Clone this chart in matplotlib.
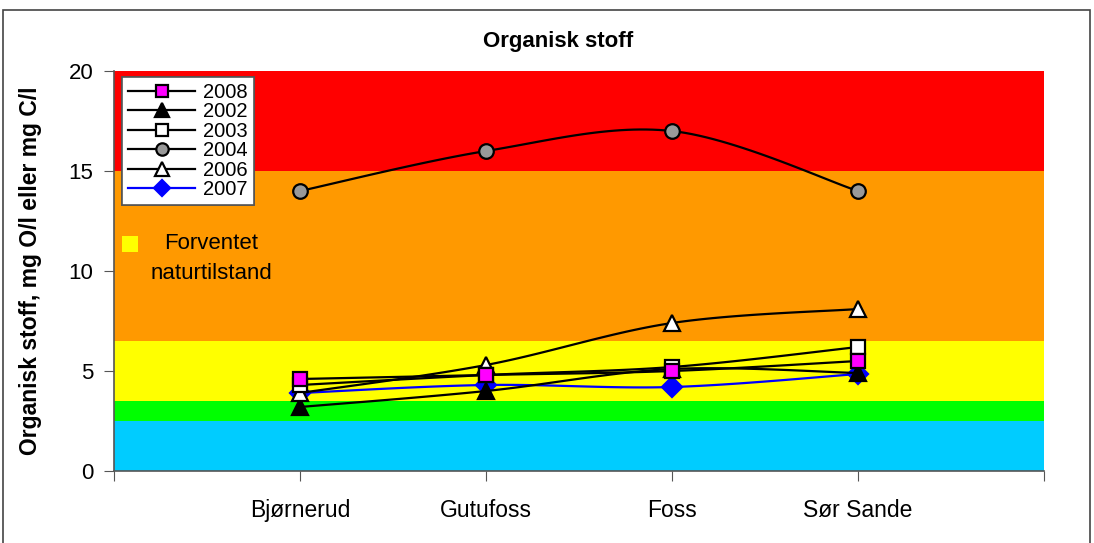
import numpy as np
import matplotlib.pyplot as plt
from matplotlib.patches import Rectangle
from matplotlib.lines import Line2D

plt.rcParams['font.family'] = ['Liberation Sans', 'DejaVu Sans']

stations = ['Bjørnerud', 'Gutufoss', 'Foss', 'Sør Sande']
v2008 = [4.6, 4.8, 5.0, 5.5]
v2002 = [3.2, 4.0, 5.1, 4.9]
v2003 = [4.3, 4.8, 5.2, 6.2]
v2004 = [14, 16, 17, 14]
v2006 = [3.9, 5.3, 7.4, 8.1]
v2007 = [3.9, 4.3, 4.2, 4.85]

# klassegrenser (fra bunn til topp)
band_edges = [0, 2.5, 3.5, 6.5, 15, 20]
band_colors = ['#00CCFF', '#00FF00', '#FFFF00', '#FF9900', '#FF0000']


def smooth(x, y, n=30):
    # catmull-rom, som Excels "glatt linje"
    x = np.asarray(x, float)
    y = np.asarray(y, float)
    px = np.concatenate([[x[0]], x, [x[-1]]])
    py = np.concatenate([[y[0]], y, [y[-1]]])
    xs, ys = [], []
    t = np.linspace(0, 1, n)
    for i in range(1, len(px) - 2):
        for p, out in ((px, xs), (py, ys)):
            p0, p1, p2, p3 = p[i - 1], p[i], p[i + 1], p[i + 2]
            out.extend(0.5 * (2 * p1 + (-p0 + p2) * t
                              + (2 * p0 - 5 * p1 + 4 * p2 - p3) * t ** 2
                              + (-p0 + 3 * p1 - 3 * p2 + p3) * t ** 3))
    return xs, ys


fig = plt.figure(figsize=(10.94, 5.43), dpi=100)
ax = fig.add_axes([0.1042, 0.1326, 0.8501, 0.7366])

for lo, hi, c in zip(band_edges[:-1], band_edges[1:], band_colors):
    ax.axhspan(lo, hi, color=c, lw=0, zorder=0)

xpos = np.arange(1, len(stations) + 1)

series = [
    ('2008', v2008, 's', '#FF00FF', 'black', 'black', 10.5, 6),
    ('2002', v2002, '^', 'black', 'black', 'black', 12, 3),
    ('2003', v2003, 's', 'white', 'black', 'black', 10.5, 5),
    ('2004', v2004, 'o', '#999999', 'black', 'black', 10.5, 5),
    ('2006', v2006, '^', 'white', 'black', 'black', 12, 4),
    ('2007', v2007, 'D', '#0000FF', '#0000FF', '#0000FF', 10, 2),
]

handles = []
for lab, vals, m, fc, ec, lc, ms, z in series:
    sx, sy = smooth(xpos, vals)
    ax.plot(sx, sy, color=lc, lw=1.6, zorder=z)
    ax.plot(xpos, vals, ls='none', marker=m, ms=ms, mfc=fc, mec=ec,
            mew=1.6, zorder=z)
    handles.append(Line2D([], [], color=lc, lw=1.6, marker=m, ms=ms * 0.85,
                          mfc=fc, mec=ec, mew=1.6, label=lab))

ax.set_xlim(0, 5)
ax.set_ylim(0, 20)
ax.set_xticks(np.arange(0, 6))
ax.set_xticklabels([''] + stations + [''])
ax.set_yticks([0, 5, 10, 15, 20])
ax.tick_params(axis='both', labelsize=16, length=7, color='#555555')
ax.tick_params(axis='x', pad=13, labelsize=16.5)
ax.tick_params(axis='y', pad=8)
for s in ('top', 'right'):
    ax.spines[s].set_visible(False)
for s in ('left', 'bottom'):
    ax.spines[s].set_color('#555555')
    ax.spines[s].set_linewidth(1.2)

ax.set_ylabel('Organisk stoff, mg O/l eller mg C/l', fontsize=16.5,
              fontweight='bold')
ax.yaxis.set_label_coords(-0.077, 0.5)

leg = ax.legend(handles=handles, loc='upper left',
                bbox_to_anchor=(0.009, 0.985), fontsize=14.5, frameon=True,
                fancybox=False, edgecolor='#555555', framealpha=1,
                handlelength=3.3, handletextpad=0.4, labelspacing=0.02,
                borderpad=0.3, borderaxespad=0)
leg.get_frame().set_linewidth(1.2)
ax.add_artist(leg)

# "Forventet naturtilstand"-forklaring
ax.add_patch(Rectangle((0.0086, 0.5475), 0.0172, 0.04,
                       transform=ax.transAxes, facecolor='#FFFF00',
                       edgecolor='none', zorder=7))
ax.text(0.1048, 0.531, 'Forventet\nnaturtilstand', transform=ax.transAxes,
        fontsize=16, ha='center', va='center', multialignment='center',
        linespacing=1.55, zorder=7)

fig.text(558 / 1094, 1 - 42 / 543, 'Organisk stoff', fontsize=16,
         fontweight='bold', ha='center', va='center')

fig.patches.append(Rectangle((3 / 1094, -0.01), 1087 / 1094, 1 - 10 / 543 + 0.01,
                             transform=fig.transFigure, fill=False,
                             edgecolor='#444444', lw=1.2))

fig.savefig('out.png', dpi=100)
